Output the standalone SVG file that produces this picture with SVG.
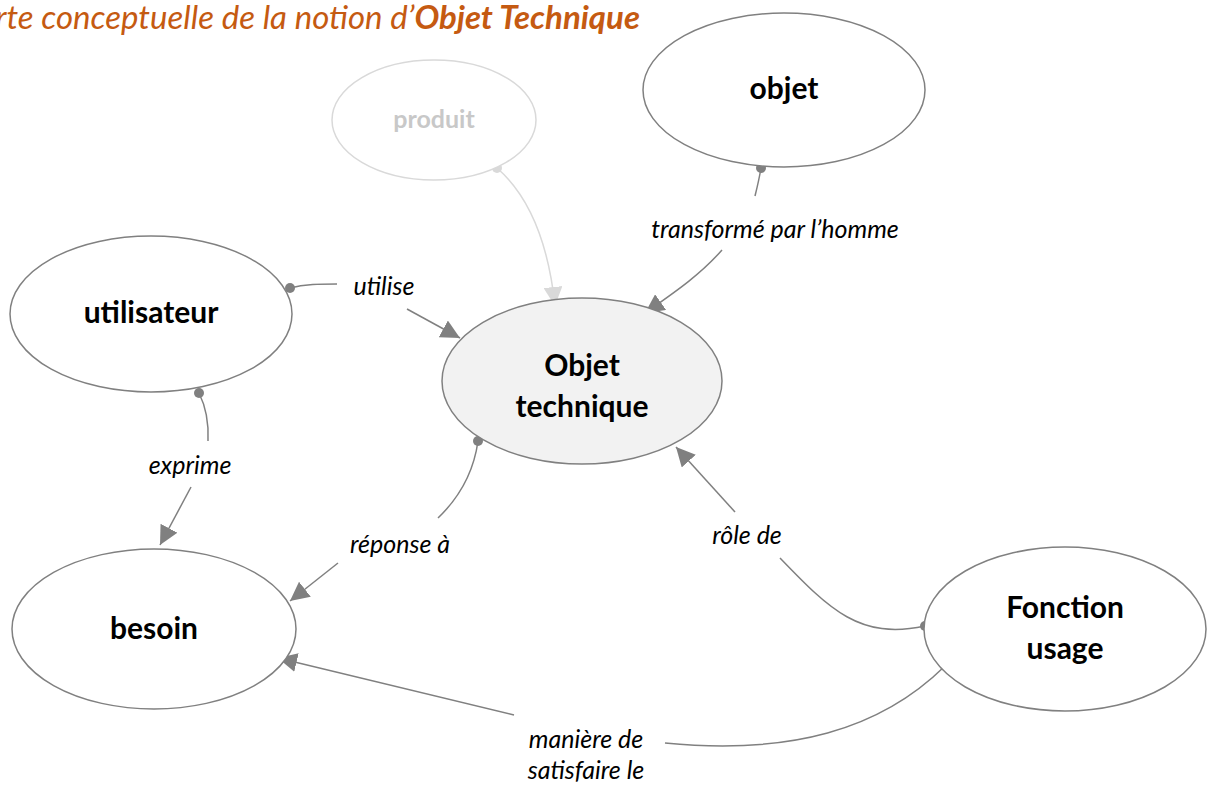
<svg xmlns="http://www.w3.org/2000/svg" width="1209" height="785" viewBox="0 0 1209 785">
<defs>
<style>
.node{fill:#ffffff;stroke:#808080;stroke-width:1.5}
.nl{font-family:Lato,"Open Sans",sans-serif;font-weight:bold;font-size:30px;fill:#000;text-anchor:middle}
.ll{font-family:Lato,"Open Sans",sans-serif;font-style:italic;font-size:25px;fill:#000;text-anchor:middle}
.c{fill:none;stroke:#808080;stroke-width:1.5}
.cl{fill:none;stroke:#d9d9d9;stroke-width:1.5}
.dot{fill:#808080}
</style>
<marker id="ah" viewBox="0 0 10 10" refX="10" refY="5" markerWidth="19" markerHeight="19" markerUnits="userSpaceOnUse" orient="auto"><path d="M0,0 L10,5 L0,10 z" fill="#808080"/></marker>
<marker id="ahl" viewBox="0 0 10 10" refX="10" refY="5" markerWidth="19" markerHeight="19" markerUnits="userSpaceOnUse" orient="auto"><path d="M0,0 L10,5 L0,10 z" fill="#d9d9d9"/></marker>
</defs>
<rect width="1209" height="785" fill="#ffffff"/>
<text x="640" y="29" text-anchor="end" font-family="Lato,'Open Sans',sans-serif" font-style="italic" font-size="33" fill="#c55a11">Carte conceptuelle de la notion d’<tspan font-weight="bold">Objet Technique</tspan></text>

<g id="connectors">
<path class="cl" d="M497,168 C528,195 548,240 555,306" marker-end="url(#ahl)"/>
<circle cx="497" cy="168" r="5" fill="#d9d9d9"/>

<path class="c" d="M761,168 C759,180 757,188 755,196"/>
<path class="c" d="M722,250 C700,275 675,292 645,313" marker-end="url(#ah)"/>
<circle class="dot" cx="761" cy="168" r="5"/>

<path class="c" d="M290,288 C305,284 320,284 337,284"/>
<path class="c" d="M407,309 L460,338" marker-end="url(#ah)"/>
<circle class="dot" cx="290" cy="288" r="5"/>

<path class="c" d="M199,393 C205,405 209,420 208,441"/>
<path class="c" d="M191,487 L160,545" marker-end="url(#ah)"/>
<circle class="dot" cx="199" cy="393" r="5"/>

<path class="c" d="M478,441 C474,470 462,495 438,518"/>
<path class="c" d="M338,563 L290,601" marker-end="url(#ah)"/>
<circle class="dot" cx="478" cy="441" r="5"/>

<path class="c" d="M925,626 C860,640 830,610 780,558"/>
<path class="c" d="M735,512 L676,447" marker-end="url(#ah)"/>
<circle class="dot" cx="925" cy="626" r="5"/>

<path class="c" d="M945,666 C880,730 790,755 665,743"/>
<path class="c" d="M514,715 L278,658" marker-end="url(#ah)"/>
<circle class="dot" cx="945" cy="666" r="5"/>
</g>

<g id="label-transforme"><text class="ll" x="775" y="238">transformé par l’homme</text></g>
<g id="label-utilise"><text class="ll" x="384" y="295">utilise</text></g>
<g id="label-exprime"><text class="ll" x="190" y="474">exprime</text></g>
<g id="label-reponse"><text class="ll" x="400" y="553">réponse à</text></g>
<g id="label-role"><text class="ll" x="747" y="544">rôle de</text></g>
<g id="label-maniere"><text class="ll" x="586" y="748">manière de</text><text class="ll" x="586" y="779">satisfaire le</text></g>

<g id="node-produit"><ellipse cx="434" cy="120" rx="102" ry="60" fill="#ffffff" stroke="#d9d9d9" stroke-width="1.5"/><text class="nl" x="434" y="128" style="fill:#c8c8c8;font-size:25px">produit</text></g>
<g id="node-objet"><ellipse class="node" cx="784" cy="90" rx="141" ry="77"/><text class="nl" x="784" y="99">objet</text></g>
<g id="node-utilisateur"><ellipse class="node" cx="151" cy="314" rx="141" ry="78"/><text class="nl" x="151" y="323">utilisateur</text></g>
<g id="node-objet-technique"><ellipse class="node" cx="582" cy="381" rx="140" ry="83" style="fill:#f2f2f2"/><text class="nl" x="582" y="376">Objet</text><text class="nl" x="582" y="417">technique</text></g>
<g id="node-besoin"><ellipse class="node" cx="154" cy="629" rx="142" ry="80"/><text class="nl" x="154" y="639">besoin</text></g>
<g id="node-fonction"><ellipse class="node" cx="1065" cy="629" rx="141" ry="82"/><text class="nl" x="1065" y="618">Fonction</text><text class="nl" x="1065" y="659">usage</text></g>
</svg>
